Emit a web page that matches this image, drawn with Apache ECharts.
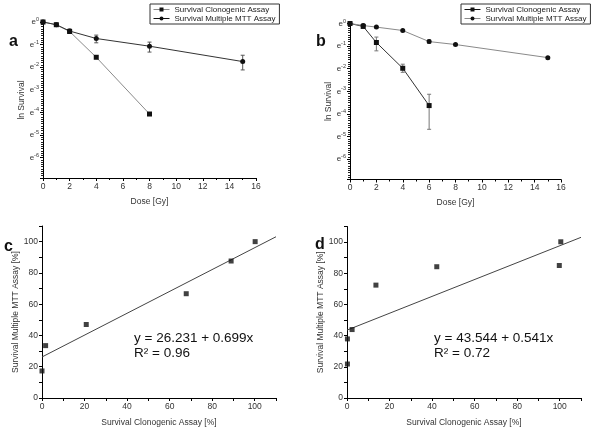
<!DOCTYPE html>
<html><head><meta charset="utf-8">
<script src="https://cdn.jsdelivr.net/npm/echarts@6/dist/echarts.min.js"></script>
<style>html,body{margin:0;padding:0;background:#fff}#c{width:600px;height:432px}</style>
</head><body><div id="c"></div>
<script>
// ---------- DATA ----------
const nameClono = 'Survival Clonogenic Assay';
const nameMtt = 'Survival Multiple MTT Assay';
// Panel a (ln survival)
const doseAClono = [0, 1, 2, 4, 8];
const lnAClono = [0, -0.12, -0.42, -1.56, -4.07];
const errAClonoUp = [0, 0.03, 0.06, 0, 0];
const errAClonoDown = [0, 0.03, 0.06, 0, 0];
const doseAMtt = [0, 1, 2, 4, 8, 15];
const lnAMtt = [0, -0.12, -0.40, -0.73, -1.07, -1.75];
const errAMttUp = [0, 0.04, 0.09, 0.15, 0.18, 0.28];
const errAMttDown = [0, 0.04, 0.09, 0.19, 0.26, 0.37];
// Panel b (ln survival)
const doseBClono = [0, 1, 2, 4, 6];
const lnBClono = [0, -0.13, -0.84, -1.98, -3.63];
const errBClonoUp = [0, 0.06, 0.24, 0.18, 0.50];
const errBClonoDown = [0, 0.06, 0.37, 0.18, 1.05];
const doseBMtt = [0, 1, 2, 4, 6, 8, 15];
const lnBMtt = [0, -0.09, -0.16, -0.31, -0.80, -0.93, -1.51];
const errBMttUp = [0, 0.07, 0.03, 0.03, 0.08, 0.03, 0.05];
const errBMttDown = [0, 0.07, 0.03, 0.03, 0.08, 0.03, 0.05];
// Panel c (% vs %)
const clonoC = [0.0, 1.7, 20.8, 67.8, 88.9, 100.2];
const mttC = [17.3, 33.5, 47.0, 66.7, 87.6, 100.0];
const fitCx = [0, 110];
const fitCy = [26.231, 103.12];
const eqC = ['y = 26.231 + 0.699x', 'R² = 0.96'];
// Panel d
const clonoD = [0.2, 0.2, 2.4, 13.6, 42.2, 99.8, 100.5];
const mttD = [37.9, 21.8, 43.9, 72.4, 84.2, 85.0, 100.2];
const fitDx = [0, 110];
const fitDy = [43.544, 103.05];
const eqD = ['y = 43.544 + 0.541x', 'R² = 0.72'];
// Tick settings
const lnTickLabels = ['e0', 'e-1', 'e-2', 'e-3', 'e-4', 'e-5', 'e-6'];

// ---------- CHART ----------
const FF = 'Liberation Sans, Arial, sans-serif';
const TXT = '#333';
const GRAY = '#8a8a8a';
const BLACK = '#111';

function zip(xs, ys) { return xs.map((x, i) => [x, ys[i]]); }
function lnPts(xs, ys) { return xs.map((x, i) => [x, -ys[i]]); }
function errPts(xs, ys, up, down) {
  return xs.map((x, i) => [x, -ys[i] - up[i], -ys[i] + down[i]]).filter((d, i) => up[i] > 0 || down[i] > 0);
}

const axisLineStyle = { color: '#000', width: 1 };

function lnYAxis(g) {
  return {
    type: 'value', gridIndex: g, inverse: true, min: 0, max: 6.9, interval: 1,
    axisLine: { show: true, onZero: false, lineStyle: axisLineStyle },
    axisTick: { show: true, length: 3, lineStyle: axisLineStyle },
    minorTick: { show: true, splitNumber: 10, length: 2, lineStyle: { color: '#222', width: 1 } },
    splitLine: { show: false },
    axisLabel: {
      margin: 4,
      formatter: v => {
        if (Math.abs(v - Math.round(v)) > 1e-6) return '';
        const t = lnTickLabels[Math.round(v)];
        if (!t) return '';
        return '{e|e}{s|' + t.slice(1) + '}';
      },
      rich: {
        e: { fontSize: 8, color: TXT, fontFamily: FF },
        s: { fontSize: 5.5, color: TXT, fontFamily: FF, verticalAlign: 'top', padding: [0, 0, 5, 0] }
      }
    },
    name: 'ln Survival', nameLocation: 'middle', nameGap: 14,
    nameTextStyle: { fontSize: 8.5, color: TXT, fontFamily: FF }
  };
}
function doseXAxis(g) {
  return {
    type: 'value', gridIndex: g, min: 0, max: 16, interval: 2,
    axisLine: { show: true, onZero: false, lineStyle: axisLineStyle },
    axisTick: { show: true, length: 3, lineStyle: axisLineStyle },
    minorTick: { show: true, splitNumber: 2, length: 2, lineStyle: axisLineStyle },
    splitLine: { show: false },
    axisLabel: { margin: 4, fontSize: 8.5, color: TXT, fontFamily: FF },
    name: 'Dose [Gy]', nameLocation: 'middle', nameGap: 19,
    nameTextStyle: { fontSize: 8.5, color: TXT, fontFamily: FF }
  };
}
function pctAxis(g, name, isY) {
  return {
    type: 'value', gridIndex: g, min: 0, max: 110, interval: 10,
    axisLine: { show: true, onZero: false, lineStyle: axisLineStyle },
    axisTick: { show: true, length: 3, lineStyle: axisLineStyle },
    splitLine: { show: false },
    axisLabel: { margin: 4, fontSize: 8.5, color: TXT, fontFamily: FF,
      formatter: v => (v % 20 === 0 ? String(v) : '') },
    name: name, nameLocation: 'middle', nameGap: isY ? 22 : 20,
    nameTextStyle: { fontSize: 8.5, color: TXT, fontFamily: FF }
  };
}

function errSeries(x, y, data, color) {
  return {
    type: 'custom', xAxisIndex: x, yAxisIndex: y, data: data, z: 1,
    encode: { x: 0, y: [1, 2] }, silent: true,
    renderItem: (params, api) => {
      const p1 = api.coord([api.value(0), api.value(1)]);
      const p2 = api.coord([api.value(0), api.value(2)]);
      const w = 2;
      const st = { stroke: color, lineWidth: 1 };
      return { type: 'group', children: [
        { type: 'line', shape: { x1: p1[0], y1: p1[1], x2: p2[0], y2: p2[1] }, style: st },
        { type: 'line', shape: { x1: p1[0] - w, y1: p1[1], x2: p1[0] + w, y2: p1[1] }, style: st },
        { type: 'line', shape: { x1: p2[0] - w, y1: p2[1], x2: p2[0] + w, y2: p2[1] }, style: st }
      ]};
    }
  };
}
function lineSeries(name, x, y, data, lineColor, symbol) {
  return {
    name: name, type: 'line', xAxisIndex: x, yAxisIndex: y, data: data,
    symbol: symbol, symbolSize: 5, showSymbol: true, z: 3,
    lineStyle: { color: lineColor, width: 1 },
    itemStyle: { color: BLACK }, emphasis: { disabled: true }
  };
}

const legendText = { fontSize: 8, color: '#222', fontFamily: FF, lineHeight: 9 };
function legend(left, top, clonoColor, mttColor) {
  return {
    orient: 'vertical', left: left, top: top, itemGap: 0, itemWidth: 16, itemHeight: 5,
    padding: [1, 4, 1, 3], borderColor: '#333', borderWidth: 1, textStyle: legendText,
    selectedMode: false,
    data: [
      { name: nameClono, lineStyle: { color: clonoColor, width: 1 }, itemStyle: { color: BLACK } },
      { name: nameMtt, lineStyle: { color: mttColor, width: 1 }, itemStyle: { color: BLACK } }
    ]
  };
}

const letterStyle = { fontSize: 16, fontWeight: 'bold', fontFamily: FF, fill: '#111' };

const option = {
  animation: false,
  backgroundColor: '#fff',
  grid: [
    { left: 43, top: 22, width: 213, height: 156 },
    { left: 350, top: 23.5, width: 211, height: 156 },
    { left: 42, top: 226, width: 234, height: 172 },
    { left: 347, top: 226.5, width: 234, height: 171.5 }
  ],
  xAxis: [doseXAxis(0), doseXAxis(1),
    pctAxis(2, 'Survival Clonogenic Assay [%]', false), pctAxis(3, 'Survival Clonogenic Assay [%]', false)],
  yAxis: [lnYAxis(0), lnYAxis(1),
    pctAxis(2, 'Survival Multiple MTT Assay [%]', true), pctAxis(3, 'Survival Multiple MTT Assay [%]', true)],
  legend: [legend(150, 4, GRAY, BLACK), legend(461, 4, BLACK, GRAY)],
  series: [
    errSeries(0, 0, errPts(doseAClono, lnAClono, errAClonoUp, errAClonoDown), GRAY),
    errSeries(0, 0, errPts(doseAMtt, lnAMtt, errAMttUp, errAMttDown), '#555'),
    lineSeries(nameClono, 0, 0, lnPts(doseAClono, lnAClono), GRAY, 'rect'),
    lineSeries(nameMtt, 0, 0, lnPts(doseAMtt, lnAMtt), '#333', 'circle'),
    errSeries(1, 1, errPts(doseBClono, lnBClono, errBClonoUp, errBClonoDown), '#777'),
    errSeries(1, 1, errPts(doseBMtt, lnBMtt, errBMttUp, errBMttDown), GRAY),
    lineSeries(nameClono, 1, 1, lnPts(doseBClono, lnBClono), '#333', 'rect'),
    lineSeries(nameMtt, 1, 1, lnPts(doseBMtt, lnBMtt), GRAY, 'circle'),
    { type: 'line', xAxisIndex: 2, yAxisIndex: 2, data: zip(fitCx, fitCy), showSymbol: false,
      lineStyle: { color: '#444', width: 1 }, z: 2, silent: true },
    { type: 'scatter', xAxisIndex: 2, yAxisIndex: 2, data: zip(clonoC, mttC), symbol: 'rect',
      symbolSize: 5, itemStyle: { color: BLACK }, z: 3 },
    { type: 'line', xAxisIndex: 3, yAxisIndex: 3, data: zip(fitDx, fitDy), showSymbol: false,
      lineStyle: { color: '#444', width: 1 }, z: 2, silent: true },
    { type: 'scatter', xAxisIndex: 3, yAxisIndex: 3, data: zip(clonoD, mttD), symbol: 'rect',
      symbolSize: 5, itemStyle: { color: BLACK }, z: 3 }
  ],
  graphic: [
    { type: 'text', left: 9, top: 34, style: Object.assign({ text: 'a' }, letterStyle) },
    { type: 'text', left: 316, top: 34, style: Object.assign({ text: 'b' }, letterStyle) },
    { type: 'text', left: 4, top: 239, style: Object.assign({ text: 'c' }, letterStyle) },
    { type: 'text', left: 315, top: 237, style: Object.assign({ text: 'd' }, letterStyle) },
    { type: 'text', left: 134, top: 331, style: { text: eqC.join('\n'), fontSize: 13.5, lineHeight: 15, fontFamily: FF, fill: '#111' } },
    { type: 'text', left: 434, top: 331, style: { text: eqD.join('\n'), fontSize: 13.5, lineHeight: 15, fontFamily: FF, fill: '#111' } }
  ]
};

const chart = echarts.init(document.getElementById('c'), null, { renderer: 'canvas' });
chart.setOption(option);
</script></body></html>
